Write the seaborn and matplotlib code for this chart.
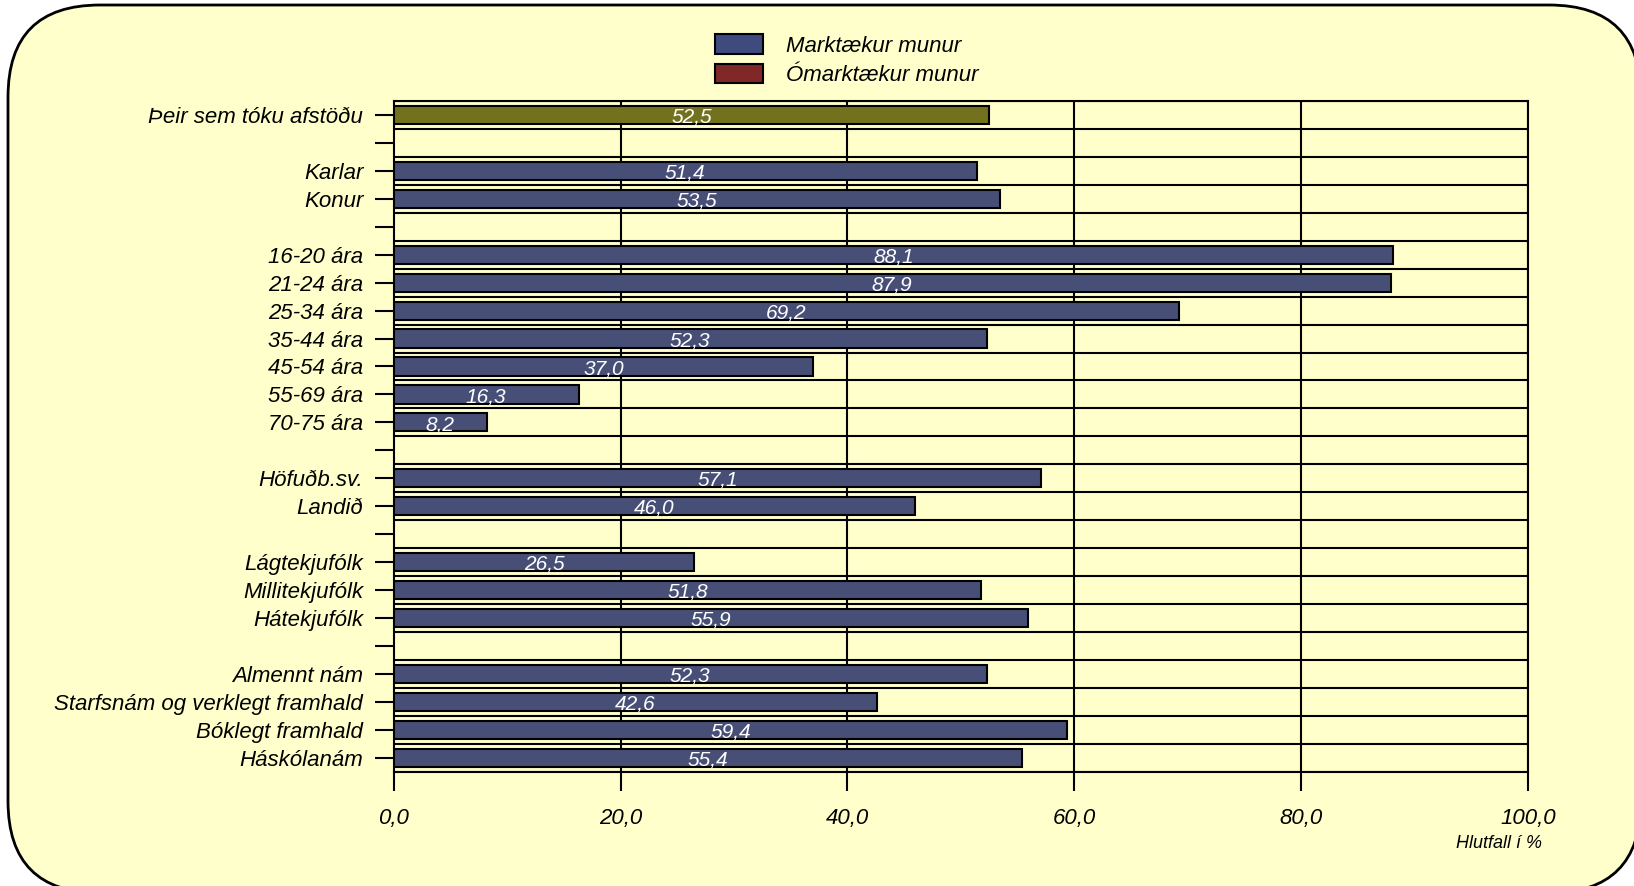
import numpy as np
import pandas as pd
import matplotlib
matplotlib.use("Agg")
import matplotlib.pyplot as plt
import matplotlib.patches as mpatches
import matplotlib.transforms as mtransforms
import seaborn as sns

# slots of the chart, blanks are spacer rows
slots = ["Þeir sem tóku afstöðu", " ", "Karlar", "Konur", "  ",
         "16-20 ára", "21-24 ára", "25-34 ára", "35-44 ára", "45-54 ára",
         "55-69 ára", "70-75 ára", "   ", "Höfuðb.sv.", "Landið", "    ",
         "Lágtekjufólk", "Millitekjufólk", "Hátekjufólk", "     ",
         "Almennt nám", "Starfsnám og verklegt framhald", "Bóklegt framhald",
         "Háskólanám"]

labels = ["Þeir sem tóku afstöðu", "Karlar", "Konur",
          "16-20 ára", "21-24 ára", "25-34 ára", "35-44 ára", "45-54 ára",
          "55-69 ára", "70-75 ára", "Höfuðb.sv.", "Landið",
          "Lágtekjufólk", "Millitekjufólk", "Hátekjufólk",
          "Almennt nám", "Starfsnám og verklegt framhald", "Bóklegt framhald",
          "Háskólanám"]
values = [52.5, 51.4, 53.5,
          88.1, 87.9, 69.2, 52.3, 37.0, 16.3, 8.2,
          57.1, 46.0,
          26.5, 51.8, 55.9,
          52.3, 42.6, 59.4, 55.4]
groups = ["Alls"] + ["Marktækur munur"] * 18

xticks = [0, 20, 40, 60, 80, 100]
legend_labels = ["Marktækur munur", "Ómarktækur munur"]

bg = "#FFFFCC"
navy = "#3F4A7E"
olive = "#808010"
red = "#802828"

df = pd.DataFrame({"label": labels, "value": values, "group": groups})

fonts = ["Liberation Sans Narrow", "Liberation Sans", "DejaVu Sans"]
plt.rcParams["font.family"] = fonts
plt.rcParams["font.style"] = "italic"

fig = plt.figure(figsize=(16.34, 8.86), dpi=100, facecolor="white")

# rounded frame behind everything
frame = mpatches.FancyBboxPatch((8, -7), 1633, 888,
                                boxstyle="round,pad=0,rounding_size=92",
                                transform=mtransforms.IdentityTransform(),
                                facecolor=bg, edgecolor="black", linewidth=2,
                                zorder=-10)
fig.patches.append(frame)

ax = fig.add_axes([0.241, 0.129, 0.694, 0.757])
ax.set_facecolor(bg)

sns.barplot(data=df, x="value", y="label", hue="group", order=slots,
            palette={"Alls": olive, "Marktækur munur": navy},
            orient="h", width=0.65, edgecolor="black", linewidth=1.5,
            legend=False, ax=ax, zorder=3)

ax.set_xlim(0, 100)
ax.set_ylim(len(slots) - 0.5, -0.5)

# grid lines
for b in np.arange(-0.5, len(slots), 1.0):
    ax.axhline(b, color="black", lw=1.5, zorder=1)
for t in xticks[1:]:
    ax.axvline(t, color="black", lw=1.5, zorder=1)

for s in ax.spines.values():
    s.set_color("black")
    s.set_linewidth(1.5)

ax.set_xticks(xticks)
ax.set_xticklabels([f"{t:.1f}".replace(".", ",") for t in xticks], fontsize=16)
ax.tick_params(axis="x", length=14, width=1.5, pad=12)
ax.tick_params(axis="y", length=14, width=1.5, pad=8, labelsize=16)
ax.set_xlabel("")
ax.set_ylabel("")

# value labels in the bars
for cont in ax.containers:
    for bar in cont:
        w = bar.get_width()
        if np.isnan(w) or w == 0:
            continue
        ax.text(w / 2, bar.get_y() + bar.get_height() * 0.62,
                f"{w:.1f}".replace(".", ","), ha="center", va="center",
                color="white", fontsize=15, zorder=5)

handles = [mpatches.Patch(facecolor=navy, edgecolor="black", lw=1.5),
           mpatches.Patch(facecolor=red, edgecolor="black", lw=1.5)]
fig.legend(handles, legend_labels, loc="center", bbox_to_anchor=(0.518, 0.932),
           frameon=False, fontsize=16, handlelength=2.2, handleheight=1.0,
           labelspacing=0.3, handletextpad=1.0)

fig.text(0.944, 0.048, "Hlutfall í %", ha="right", va="center", fontsize=13)

fig.savefig("out.png", dpi=100, facecolor="white")
